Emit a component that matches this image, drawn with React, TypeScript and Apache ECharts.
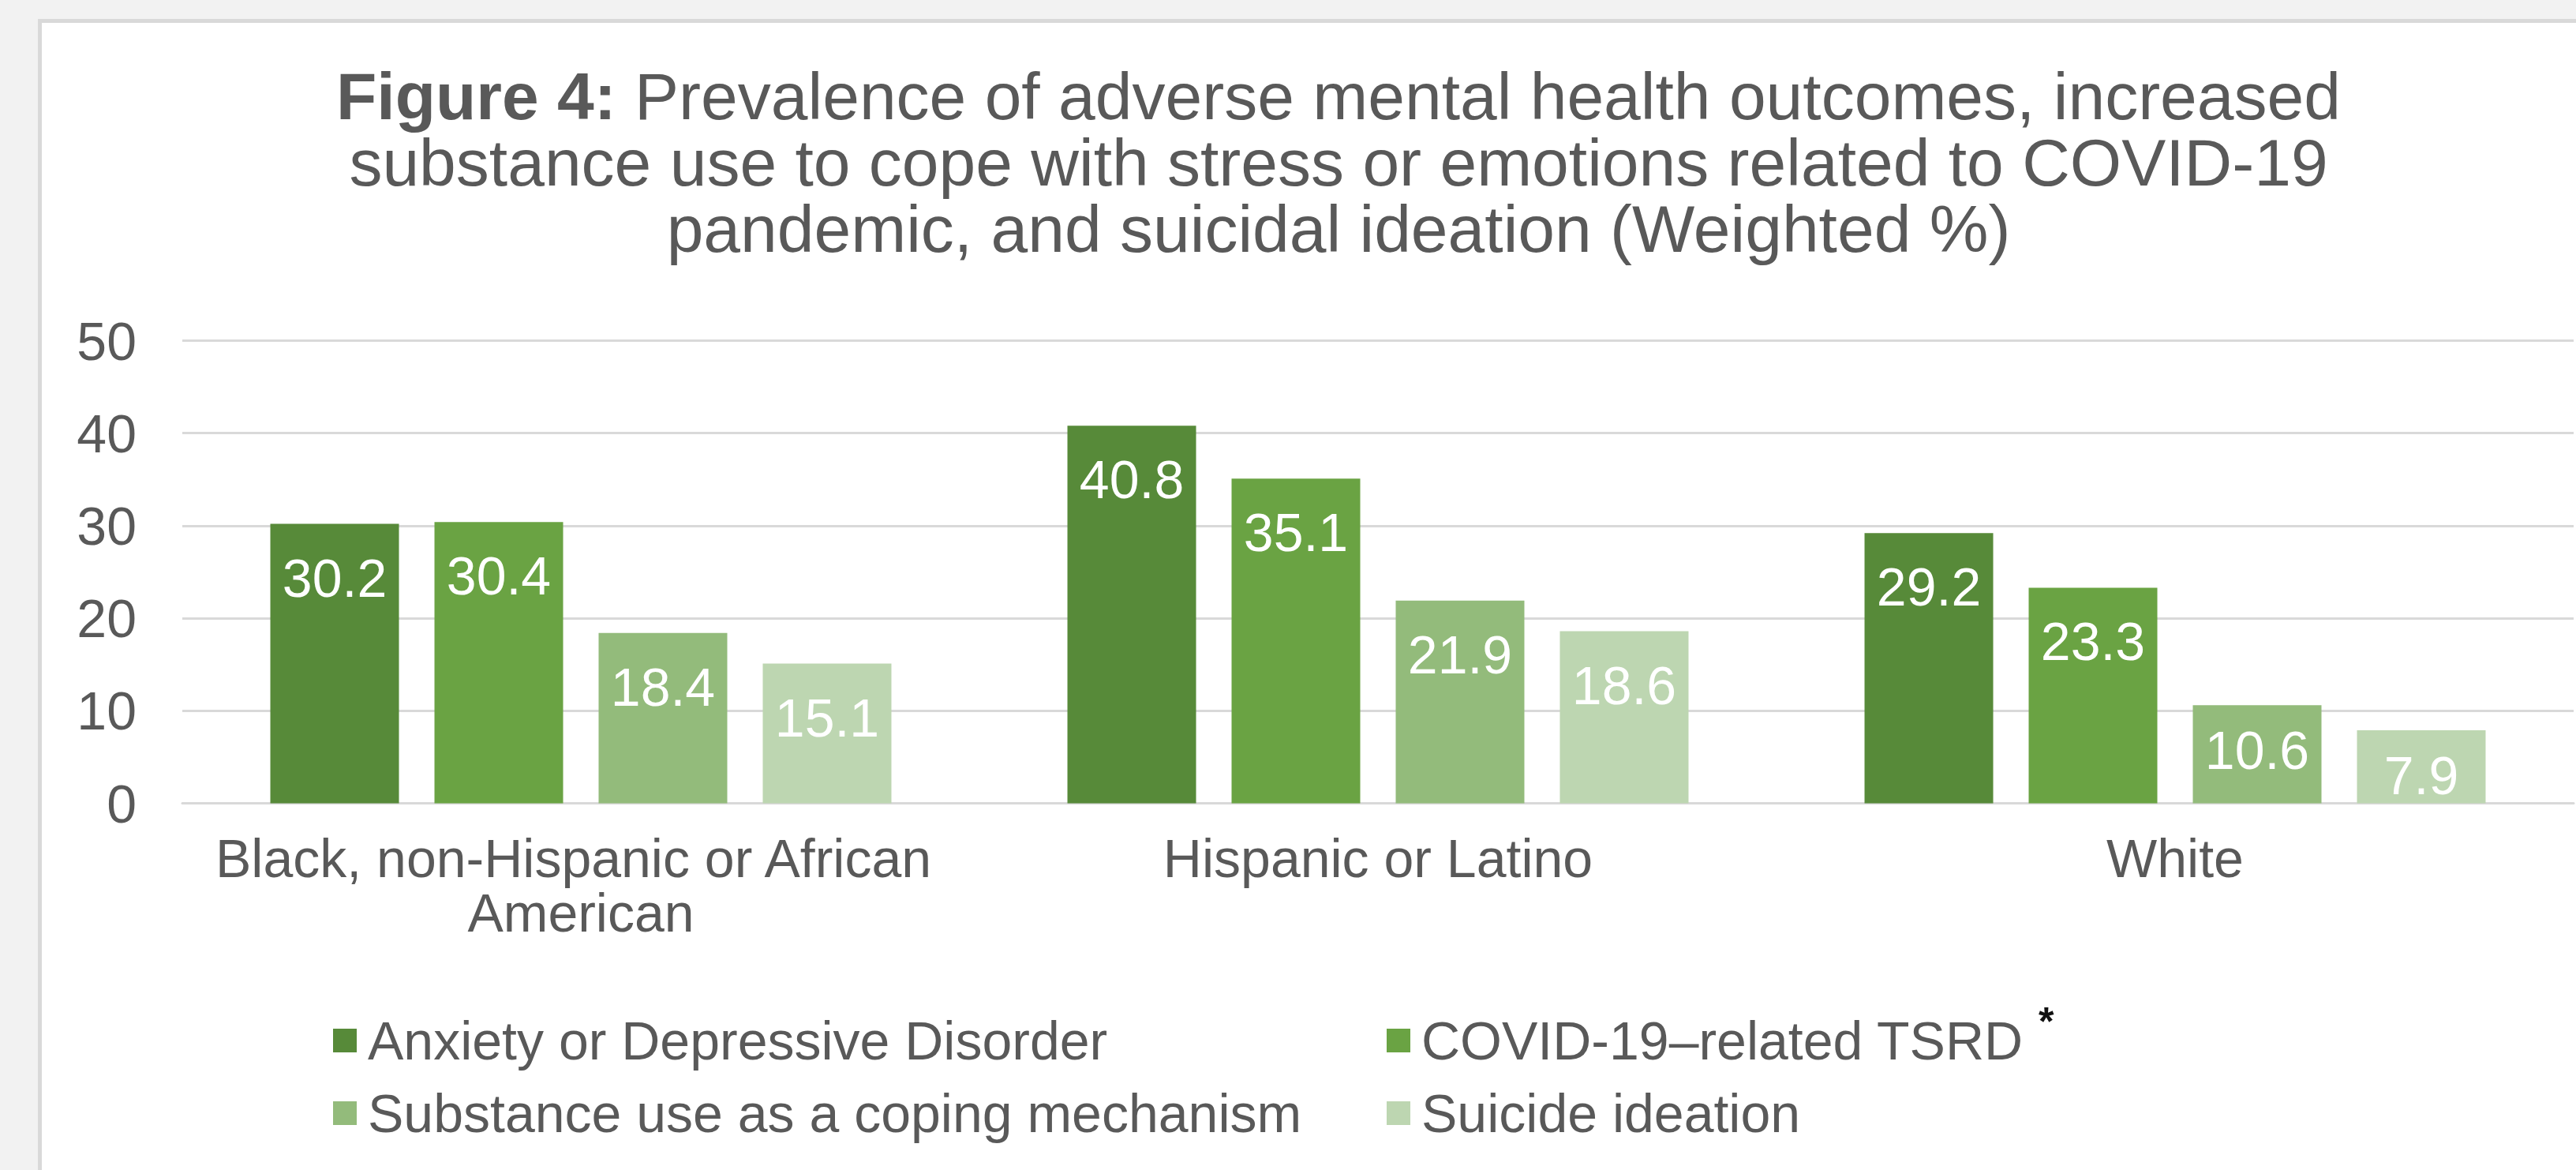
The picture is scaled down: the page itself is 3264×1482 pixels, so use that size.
import React, { useEffect, useRef } from "react";
import * as echarts from "echarts";

// Race / ethnicity groups on the x axis
const categories = [
  "Black, non-Hispanic or African American",
  "Hispanic or Latino",
  "White",
];

// Outcome series (weighted %)
const seriesNames = [
  "Anxiety or Depressive Disorder",
  "COVID-19\u2013related TSRD",
  "Substance use as a coping mechanism",
  "Suicide ideation",
];
const anxietyDepression = [30.2, 40.8, 29.2];
const covidTsrd = [30.4, 35.1, 23.3];
const substanceUse = [18.4, 21.9, 10.6];
const suicideIdeation = [15.1, 18.6, 7.9];

const yMin = 0;
const yMax = 50;
const yStep = 10;

const titleLead = "Figure 4:";
const titleLines = [
  "Prevalence of adverse mental health outcomes, increased",
  "substance use to cope with stress or emotions related to COVID-19",
  "pandemic, and suicidal ideation (Weighted %)",
];
const footnoteMark = "*";

const palette = ["#578A39", "#6AA343", "#93BB7B", "#BDD6B1"];
const FONT = "'Liberation Sans', Arial, Helvetica, sans-serif";
const TEXT_GRAY = "#595959";

export default function App() {
  const ref = useRef<HTMLDivElement>(null);

  useEffect(() => {
    if (!ref.current) return;
    const chart = echarts.init(ref.current, undefined, { renderer: "svg" });

    const seriesData = [anxietyDepression, covidTsrd, substanceUse, suicideIdeation];

    const series = seriesData.map((values, i) => ({
      type: "bar" as const,
      name: seriesNames[i],
      data: values.map((v) => ({
        value: v,
        // short bars keep their label a little closer to the bar end
        label: v < 12 ? { distance: 23 } : undefined,
      })),
      barWidth: 163,
      barGap: "27.6%",
      itemStyle: { color: palette[i] },
      label: {
        show: true,
        position: "insideTop" as const,
        distance: 34,
        color: "#ffffff",
        fontSize: 68,
        fontFamily: FONT,
        formatter: (p: any) => Number(p.value).toFixed(1),
      },
    }));

    const legendText = {
      fontSize: 68,
      color: TEXT_GRAY,
      fontFamily: FONT,
      lineHeight: 68,
      padding: [0, 0, 14, 9],
    };

    const titleText =
      `{b|${titleLead}} ${titleLines[0]}\n` + titleLines.slice(1).join("\n");

    chart.setOption({
      animation: false,
      backgroundColor: "#f2f2f2",
      title: {
        text: titleText,
        left: 1696,
        top: 80,
        padding: 0,
        textAlign: "center",
        textStyle: {
          fontSize: 84,
          fontWeight: "normal",
          color: TEXT_GRAY,
          fontFamily: FONT,
          lineHeight: 84,
          rich: {
            b: {
              fontSize: 84,
              fontWeight: "bold",
              color: TEXT_GRAY,
              fontFamily: FONT,
              lineHeight: 84,
            },
          },
        },
      },
      graphic: [
        {
          type: "rect",
          z: -10,
          silent: true,
          shape: { x: 50.5, y: 26.5, width: 3400, height: 1600 },
          style: { fill: "#ffffff", stroke: "#d9d9d9", lineWidth: 5 },
        },
        {
          type: "text",
          z: 100,
          silent: true,
          x: 2583,
          y: 1269,
          style: {
            text: footnoteMark,
            fontSize: 50,
            fontWeight: "bold",
            fill: "#111111",
            fontFamily: FONT,
          },
        },
      ],
      legend: [
        {
          data: [seriesNames[0], seriesNames[2]],
          orient: "vertical",
          left: 422,
          top: 1277,
          padding: 0,
          itemWidth: 30,
          itemHeight: 30,
          itemGap: 10,
          icon: "rect",
          selectedMode: false,
          textStyle: legendText,
        },
        {
          data: [seriesNames[1], seriesNames[3]],
          orient: "vertical",
          left: 1757,
          top: 1277,
          padding: 0,
          itemWidth: 30,
          itemHeight: 30,
          itemGap: 10,
          icon: "rect",
          selectedMode: false,
          textStyle: legendText,
        },
      ],
      grid: {
        left: 231,
        right: 3,
        top: 431.5,
        bottom: 464.5,
        containLabel: false,
      },
      xAxis: {
        type: "category",
        data: categories,
        axisTick: { show: false },
        axisLine: { lineStyle: { color: "#d9d9d9", width: 3 } },
        axisLabel: {
          interval: 0,
          fontSize: 68,
          lineHeight: 69,
          color: TEXT_GRAY,
          fontFamily: FONT,
          margin: 35,
          width: 1000,
          overflow: "break",
        },
      },
      yAxis: {
        type: "value",
        min: yMin,
        max: yMax,
        interval: yStep,
        axisLine: { show: false },
        axisTick: { show: false },
        axisLabel: {
          fontSize: 68,
          color: TEXT_GRAY,
          fontFamily: FONT,
          margin: 58,
        },
        splitLine: { lineStyle: { color: "#d9d9d9", width: 3 } },
      },
      series,
    });

    return () => chart.dispose();
  }, []);

  return (
    <div
      ref={ref}
      style={{ position: "absolute", left: 0, top: 0, width: 3264, height: 1482 }}
    />
  );
}
